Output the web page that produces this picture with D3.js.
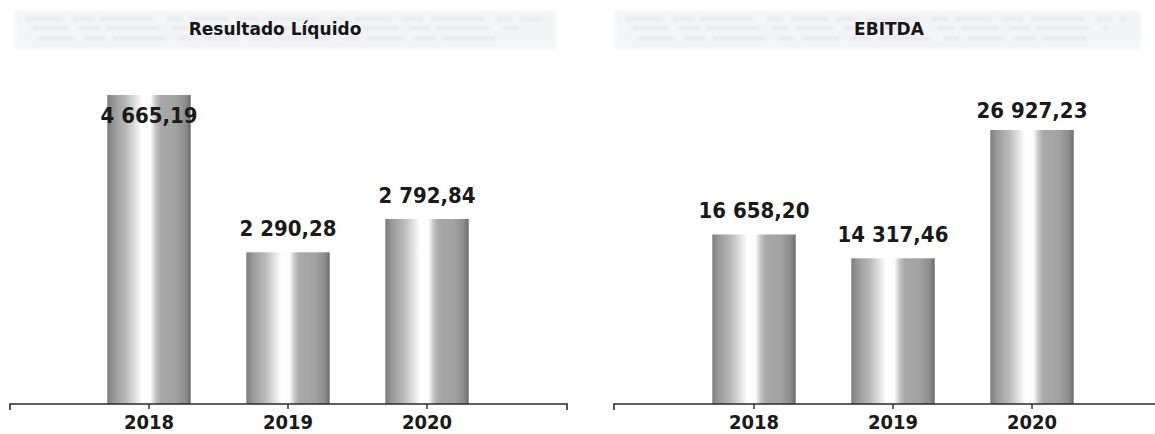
<!DOCTYPE html>
<html>
<head>
<meta charset="utf-8">
<script src="https://cdn.jsdelivr.net/npm/d3@7"></script>
<style>
  html, body { margin: 0; padding: 0; background: #fff; }
  svg { display: block; }
  .num { font-family: "DejaVu Sans Condensed", "DejaVu Sans", sans-serif; font-stretch: condensed; font-weight: bold; fill: #1a1a1a; }
  .title { font-family: "DejaVu Sans", sans-serif; font-weight: bold; fill: #161616; }
</style>
</head>
<body>
<script>
// Financial indicators, thousands, 2018–2020
const years = ["2018", "2019", "2020"];
const resultadoLiquido = [4665.19, 2290.28, 2792.84];
const ebitda = [16658.20, 14317.46, 26927.23];
const titles = ["Resultado Líquido", "EBITDA"];

const W = 1155, H = 434;
const svg = d3.select("body").append("svg").attr("width", W).attr("height", H);

// Cylindrical grey shading for the bars
const defs = svg.append("defs");
const grad = defs.append("linearGradient").attr("id", "barShade")
  .attr("x1", "0%").attr("x2", "100%").attr("y1", "0%").attr("y2", "0%");
[[0, "#7c7c7c"], [0.08, "#9a9a9a"], [0.22, "#b8b8b8"], [0.34, "#e2e2e2"], [0.42, "#ffffff"],
 [0.52, "#fbfbfb"], [0.58, "#c4c4c4"], [0.64, "#a8a8a8"], [0.82, "#a2a2a2"], [0.94, "#8c8c8c"], [1, "#6a6a6a"]]
  .forEach(([o, c]) => grad.append("stop").attr("offset", o).attr("stop-color", c));

const blur = defs.append("filter").attr("id", "soft").attr("x", "-5%").attr("y", "-30%").attr("width", "110%").attr("height", "160%");
blur.append("feGaussianBlur").attr("stdDeviation", 1.6);

const fmt = v => {
  const [i, d] = v.toFixed(2).split(".");
  return i.replace(/\B(?=(\d{3})+(?!\d))/g, " ") + "," + d;
};

const baseY = 404;

function panel(cfg) {
  const g = svg.append("g");

  // faint header band behind the title
  const band = g.append("g").attr("filter", "url(#soft)");
  band.append("rect").attr("x", cfg.band[0]).attr("y", 11)
    .attr("width", cfg.band[1] - cfg.band[0]).attr("height", 38).attr("fill", "#f4f5f7");
  [19, 28, 38].forEach((yy, k) => {
    band.append("line").attr("x1", cfg.band[0] + 10 + k * 6).attr("x2", cfg.band[1] - 14 - k * 20)
      .attr("y1", yy).attr("y2", yy).attr("stroke", "#e9eaed").attr("stroke-width", 4)
      .attr("stroke-dasharray", "38 9 22 6 54 12 17 7");
  });

  g.append("text").attr("class", "title")
    .attr("x", cfg.titleX).attr("y", 35).attr("text-anchor", "middle")
    .style("font-size", "17px").text(cfg.title);

  const x = d3.scaleBand().domain(years).range(cfg.xRange)
    .paddingInner(0.4).paddingOuter(0.2);
  const y = d3.scaleLinear().domain([0, d3.max(cfg.values)]).range([baseY, cfg.top]);

  const data = years.map((yr, i) => ({ yr, v: cfg.values[i] }));

  g.selectAll("rect.bar").data(data).join("rect").attr("class", "bar")
    .attr("x", d => x(d.yr)).attr("width", x.bandwidth())
    .attr("y", d => y(d.v)).attr("height", d => baseY - y(d.v))
    .attr("fill", "url(#barShade)");

  // baseline with end ticks
  const p = d3.path();
  p.moveTo(cfg.axis[0], baseY + 6); p.lineTo(cfg.axis[0], baseY);
  p.lineTo(cfg.axis[1], baseY); p.lineTo(cfg.axis[1], baseY + 6);
  g.append("path").attr("d", p.toString()).attr("fill", "none")
    .attr("stroke", "#2a2a2a").attr("stroke-width", 1.6);

  const ax = g.append("g").attr("transform", `translate(0,${baseY})`)
    .call(d3.axisBottom(x).tickSize(5).tickPadding(7));
  ax.select(".domain").remove();
  ax.selectAll(".tick line").attr("stroke", "#2a2a2a").attr("stroke-width", 1.4);
  ax.selectAll(".tick text").attr("class", "num").attr("fill", "#1a1a1a")
    .style("font-size", "20px").attr("font-family", null).attr("y", 25).attr("dy", null);

  g.selectAll("text.val").data(data).join("text").attr("class", "num val")
    .attr("x", d => x(d.yr) + x.bandwidth() / 2)
    .attr("y", d => Math.max(y(d.v) - 16, cfg.labelFloor))
    .attr("text-anchor", "middle").style("font-size", "22px")
    .text(d => fmt(d.v));
}

panel({ title: titles[0], titleX: 275, band: [15, 556], values: resultadoLiquido,
        xRange: [79.5, 496.5], top: 95, axis: [10, 567], labelFloor: 123 });
panel({ title: titles[1], titleX: 889, band: [615, 1141], values: ebitda,
        xRange: [684.5, 1101.5], top: 130, axis: [614, 1162], labelFloor: 118 });
</script>
</body>
</html>
